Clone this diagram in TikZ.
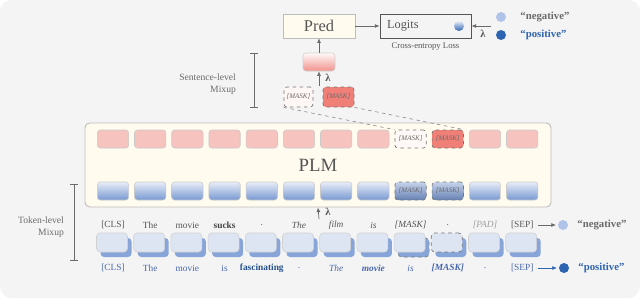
\documentclass[tikz,border=0pt]{standalone}
\usepackage{fontspec}
\setmainfont{Liberation Serif}
\usetikzlibrary{arrows.meta, positioning}
\definecolor{bggray}{HTML}{F4F4F4}
\definecolor{creamfill}{HTML}{FFFBEE}
\definecolor{boxgray}{HTML}{BDBDBD}
\definecolor{edgegray}{HTML}{555555}
\definecolor{textgray}{HTML}{6A6A6A}
\definecolor{pinktok}{HTML}{F7C3BF}
\definecolor{salmon}{HTML}{EF7F77}
\definecolor{bluetop}{HTML}{E8EDF7}
\definecolor{bluebot}{HTML}{7898D2}
\definecolor{bluefront}{HTML}{DDE5F3}
\definecolor{blueback}{HTML}{88A5D9}
\definecolor{darkblue}{HTML}{2E65B2}
\definecolor{labelblue}{HTML}{4767AC}
\definecolor{lightcirc}{HTML}{AFC4E8}

\tikzset{
  arr/.style={-{Latex[length=4pt,width=3.4pt]}, line width=0.6pt, draw=textgray},
  tok/.style={rounded corners=2.5pt, minimum width=0.94cm, minimum height=0.54cm,
    inner sep=0pt, draw=boxgray!80, line width=0.5pt},
  redtok/.style={tok, fill=pinktok},
  bluetok/.style={tok, top color=bluetop, bottom color=bluebot},
  masktok/.style={dashed, draw=edgegray!80, line width=0.6pt,
    font=\itshape\fontsize{6}{7}\selectfont, text=textgray},
  frontbox/.style={rounded corners=3pt, minimum width=0.93cm, minimum height=0.57cm,
    inner sep=0pt, fill=bluefront, draw=boxgray!70, line width=0.5pt},
  backbox/.style={rounded corners=3pt, minimum width=0.93cm, minimum height=0.57cm,
    inner sep=0pt, fill=blueback},
  toklab/.style={font=\fontsize{8}{9}\selectfont, text=edgegray, inner sep=1pt},
  sidelab/.style={font=\fontsize{8.2}{10}\selectfont, text=textgray, align=right, anchor=east},
  bracket/.style={{Bar[width=6pt]}-{Bar[width=6pt]}, draw=textgray, line width=0.5pt},
  dashline/.style={dashed, draw=textgray!80, line width=0.5pt},
  dot/.style={circle, minimum size=0.3cm, inner sep=0pt}
}

\begin{document}
\begin{tikzpicture}[x=0.03cm, y=-0.03cm]

\def\xo{113}   % centre of first token (px)
\def\px{37.2}  % token pitch (px)

\useasboundingbox (0,0) rectangle (640,298);
\fill[white] (0,0) rectangle (640,298);
\fill[bggray, rounded corners=10pt] (0,0) rectangle (640,298);

% --- Output head ---
\node[draw=boxgray, fill=creamfill, minimum width=2.16cm, minimum height=0.72cm,
  font=\fontsize{14}{16}\selectfont, text=edgegray] (pred) at (319,26) {Pred};
\node[draw=edgegray, line width=0.7pt, minimum width=2.73cm, minimum height=0.72cm]
  (logits) at (425.5,26) {};
\node[font=\fontsize{10.5}{12}\selectfont, text=edgegray, anchor=west] (logtxt)
  at (383,26) {Logits};
\node[dot, minimum size=0.3cm, top color=bluetop, bottom color=darkblue] (logdot) at (459,26) {};
\node[font=\fontsize{7.4}{9}\selectfont, text=edgegray] (celoss) at (425.5,47) {Cross-entropy Loss};
\draw[arr] (pred) -- (logits);

\node[dot, fill=lightcirc] (negtop) at (501,17) {};
\node[dot, fill=darkblue] (postop) at (501,35) {};
\node[font=\bfseries\fontsize{9.2}{11}\selectfont, text=textgray, right=0.3cm of negtop] {“negative”};
\node[font=\bfseries\fontsize{9.2}{11}\selectfont, text=darkblue, right=0.3cm of postop] {“positive”};
\coordinate (lamin) at (491,26);
\draw[arr] (lamin) -- (logits.east);
\node[font=\bfseries\fontsize{9}{10}\selectfont, text=edgegray] (lamtop) at (483,34) {λ};

% --- Sentence-level mixup ---
\draw[bracket] (254,53) -- (254,108);
\node[sidelab] (senlab) at (240,84) {Sentence-level\\Mixup};

\node[tok, draw=boxgray!70, top color=white!90!pinktok, bottom color=salmon!85,
  minimum width=0.96cm] (mix) at (319,62) {};
\draw[arr] (mix) -- (pred);

\node[tok, masktok, fill=white!85!pinktok, minimum width=0.87cm, minimum height=0.6cm]
  (maskA) at (298.5,97) {[MASK]};
\node[tok, masktok, fill=salmon, minimum width=0.93cm, minimum height=0.6cm]
  (maskB) at (338.5,97) {[MASK]};
\coordinate (maskmid) at (319,86);
\draw[arr] (maskmid) -- (mix);
\node[font=\bfseries\fontsize{9}{10}\selectfont, text=edgegray] (lammix) at (328,78) {λ};

% --- PLM ---
\node[draw=boxgray, line width=0.8pt, fill=creamfill, rounded corners=4pt,
  minimum width=13.98cm, minimum height=2.52cm,
  font=\fontsize{16}{18}\selectfont, text=edgegray] (plm) at (318,165) {PLM};

\foreach \i in {1,...,8,11,12}{
  \pgfmathsetmacro{\xx}{\xo+(\i-1)*\px}
  \node[redtok] (top\i) at (\xx,139) {};
  \node[bluetok] (bot\i) at (\xx,191) {};
}
\node[redtok, masktok, fill=white!88!pinktok] (top9) at ({\xo+8*\px},139) {[MASK]};
\node[redtok, masktok, fill=salmon] (top10) at ({\xo+9*\px},139) {[MASK]};
\node[tok, masktok, top color=bluetop!70!bluebot, bottom color=bluebot!85!black]
  (bot9) at ({\xo+8*\px},191) {[MASK]};
\node[tok, masktok, top color=bluetop!70!bluebot, bottom color=bluebot!85!black]
  (bot10) at ({\xo+9*\px},191) {[MASK]};

\draw[dashline] (maskA.south west) -- (top9.north west);
\draw[dashline] (maskB.south east) -- (top10.north east);

\coordinate (plmin) at (319,219);
\draw[arr] (plmin) -- (plm.south);
\node[font=\bfseries\fontsize{9}{10}\selectfont, text=edgegray] (lamplm) at (328,212) {λ};

% --- Token-level mixup ---
\draw[bracket] (74,184) -- (74,261);
\node[sidelab] (toklab) at (68,227) {Token-level\\Mixup};

\foreach \i in {1,...,8,10,11,12}{
  \pgfmathsetmacro{\xx}{\xo+(\i-1)*\px}
  \node[backbox] (bk\i) at (\xx+3,247.5) {};
}
\node[backbox, dashed, draw=edgegray!80, line width=0.6pt] (bk9) at ({\xo+8*\px+3},247.5) {};
\foreach \i in {1,...,9,11,12}{
  \pgfmathsetmacro{\xx}{\xo+(\i-1)*\px}
  \node[frontbox] (fr\i) at (\xx-1,242.5) {};
}
\node[frontbox, dashed, draw=edgegray!80, line width=0.6pt] (fr10) at ({\xo+9*\px-1},242.5) {};

% sentence A (upper labels)
\foreach \i/\w in {1/{[CLS]},2/{The},3/{movie},4/{\textbf{\color{edgegray!80!black}sucks}},5/{.},
  6/{\textit{The}},7/{\textit{film}},8/{\textit{is}},9/{\textit{[MASK]}},10/{.},
  11/{\textcolor{gray!75}{\textit{[PAD]}}},12/{[SEP]}}{
  \pgfmathsetmacro{\xx}{\xo+(\i-1)*\px}
  \node[toklab] (lu\i) at (\xx,225) {\w};
}
% sentence B (lower labels)
\foreach \i/\w in {1/{[CLS]},2/{The},3/{movie},4/{is},5/{\textbf{\color{darkblue!80!black}fascinating}},6/{.},
  7/{\textit{The}},8/{\textbf{\textit{movie}}},9/{\textit{is}},10/{\textbf{\textit{[MASK]}}},11/{.},12/{[SEP]}}{
  \pgfmathsetmacro{\xx}{\xo+(\i-1)*\px}
  \node[toklab, text=labelblue] (ld\i) at (\xx,268) {\w};
}

\node[dot, fill=lightcirc] (negdot) at (563,225) {};
\node[dot, fill=darkblue] (posdot) at (564,268) {};
\draw[arr, shorten <=3pt, shorten >=1.5pt] (lu12) -- (negdot);
\draw[arr, draw=darkblue, shorten <=3pt, shorten >=1.5pt] (ld12) -- (posdot);
\node[font=\bfseries\fontsize{9.2}{11}\selectfont, text=textgray, right=0.15cm of negdot] {“negative”};
\node[font=\bfseries\fontsize{9.2}{11}\selectfont, text=darkblue, right=0.15cm of posdot] {“positive”};

\end{tikzpicture}
\end{document}
